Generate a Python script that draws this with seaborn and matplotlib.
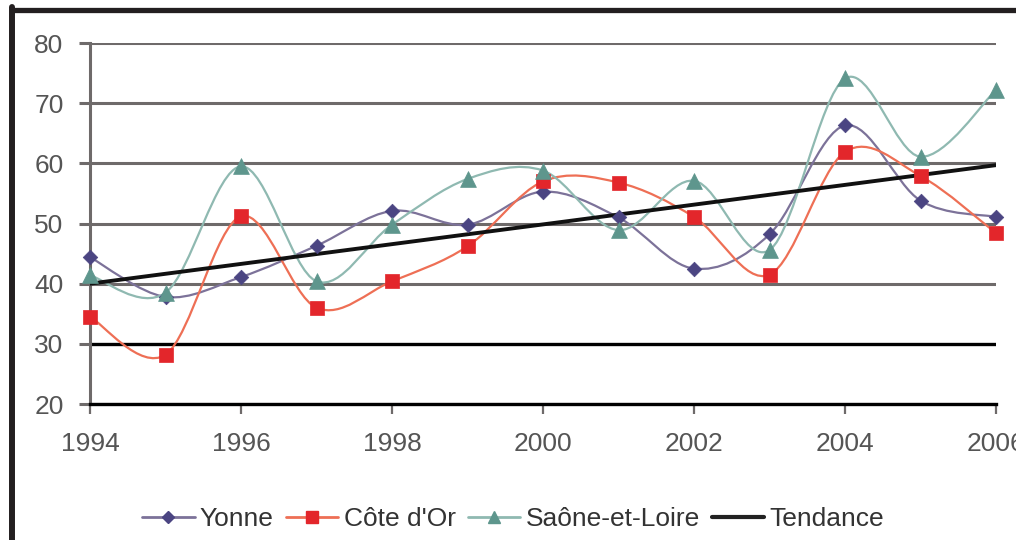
import numpy as np
import pandas as pd
import seaborn as sns
import matplotlib
matplotlib.use("Agg")
import matplotlib.pyplot as plt
from matplotlib.path import Path
from matplotlib.patches import PathPatch
from matplotlib.lines import Line2D

years = [1994, 1995, 1996, 1997, 1998, 1999, 2000, 2001, 2002, 2003, 2004, 2005, 2006]
yonne = [44.4, 37.8, 41.1, 46.3, 52.1, 49.8, 55.3, 51.0, 42.5, 48.2, 66.3, 53.8, 51.1]
cote_dor = [34.5, 28.2, 51.2, 36.0, 40.4, 46.2, 57.0, 56.8, 51.1, 41.5, 61.9, 57.9, 48.4]
saone = [41.4, 38.5, 59.5, 40.4, 49.8, 57.4, 58.8, 48.9, 57.1, 45.6, 74.1, 61.1, 72.2]
trend_years = [1994, 2006]
trend_values = [40.0, 59.7]
series_names = ["Yonne", "Côte d'Or", "Saône-et-Loire", "Tendance"]
x_ticks = [1994, 1996, 1998, 2000, 2002, 2004, 2006]
y_ticks = [20, 30, 40, 50, 60, 70, 80]

sns.set_style("white")
plt.rcParams['font.family'] = ['Liberation Sans Narrow', 'Liberation Sans', 'DejaVu Sans']

fig = plt.figure(figsize=(10.16, 5.40), dpi=100)
ax = fig.add_axes([90 / 1016, (540 - 404) / 540, (996 - 90) / 1016, (404 - 43) / 540])

styles = [
    (yonne, "#7c7299", "#4b4582", "D", 55),
    (cote_dor, "#ee6f55", "#e3262b", "s", 110),
    (saone, "#8fb9b1", "#5e968d", "^", 130),
]


def smooth_path(xs, ys):
    xs = np.asarray(xs, float)
    ys = np.asarray(ys, float)
    pts = np.column_stack([xs, ys])
    n = len(pts)
    verts = [pts[0]]
    codes = [Path.MOVETO]
    for i in range(n - 1):
        p0 = pts[i - 1] if i > 0 else pts[i]
        p1 = pts[i]
        p2 = pts[i + 1]
        p3 = pts[i + 2] if i + 2 < n else pts[i + 1]
        c1 = p1 + (p2 - p0) / 6.0
        c2 = p2 - (p3 - p1) / 6.0
        verts += [c1, c2, p2]
        codes += [Path.CURVE4] * 3
    return Path(verts, codes)


for vals, lc, mc, mk, ms in styles:
    patch = PathPatch(smooth_path(years, vals), facecolor="none", edgecolor=lc,
                      lw=1.6, zorder=3, clip_on=False)
    ax.add_patch(patch)

df_trend = pd.DataFrame({"year": trend_years, "value": trend_values})
sns.lineplot(data=df_trend, x="year", y="value", color="#111111", lw=2.8, ax=ax, zorder=4)

for vals, lc, mc, mk, ms in styles:
    sns.scatterplot(x=years, y=vals, marker=mk, color=mc, s=ms, edgecolor=mc,
                    linewidth=0.5, ax=ax, zorder=5, clip_on=False)

ax.set_xlim(1994, 2006)
ax.set_ylim(20, 80)
ax.set_xticks(x_ticks)
ax.set_yticks(y_ticks)
ax.set_xticklabels([str(v) for v in x_ticks])
ax.set_yticklabels([str(v) for v in y_ticks])
ax.set_xlabel("")
ax.set_ylabel("")

ax.grid(axis="y", color="#6e6a6a", lw=2.2)
ax.grid(axis="x", visible=False)
for gl, v in zip(ax.get_ygridlines(), y_ticks):
    if v == 30:
        gl.set_color("#000000")
        gl.set_linewidth(2.4)
ax.set_axisbelow(True)

for s in ["top", "right"]:
    ax.spines[s].set_visible(False)
ax.spines["left"].set_color("#6e6a6a")
ax.spines["left"].set_linewidth(2.2)
ax.spines["bottom"].set_color("#000000")
ax.spines["bottom"].set_linewidth(2.4)

ax.tick_params(axis="y", direction="out", length=8, width=2.2, color="#6e6a6a",
               labelsize=19, labelcolor="#555555", pad=11, left=True)
ax.tick_params(axis="x", direction="out", length=7, width=1.6, color="#6e6a6a",
               labelsize=19, labelcolor="#555555", pad=13, bottom=True)

handles = [
    Line2D([], [], color=styles[0][1], lw=2, marker="D", markersize=6,
           markerfacecolor=styles[0][2], markeredgecolor=styles[0][2]),
    Line2D([], [], color=styles[1][1], lw=2, marker="s", markersize=8,
           markerfacecolor=styles[1][2], markeredgecolor=styles[1][2]),
    Line2D([], [], color=styles[2][1], lw=2, marker="^", markersize=8,
           markerfacecolor=styles[2][2], markeredgecolor=styles[2][2]),
    Line2D([], [], color="#222222", lw=3),
]
fig.legend(handles, series_names, loc="center", bbox_to_anchor=(0.505, 0.039), ncol=4,
           frameon=False, fontsize=19, handlelength=2.0, handletextpad=0.2,
           columnspacing=0.45, labelcolor="#333333")

# frame lines (top and left)
fig.add_artist(Line2D([12 / 1016, 1], [1 - 9.5 / 540, 1 - 9.5 / 540], color="#231f20", lw=3.8,
                      transform=fig.transFigure))
fig.add_artist(Line2D([12 / 1016, 12 / 1016], [0, 1 - 7 / 540], color="#231f20", lw=4.3,
                      transform=fig.transFigure))

fig.savefig("out.png", dpi=100)
